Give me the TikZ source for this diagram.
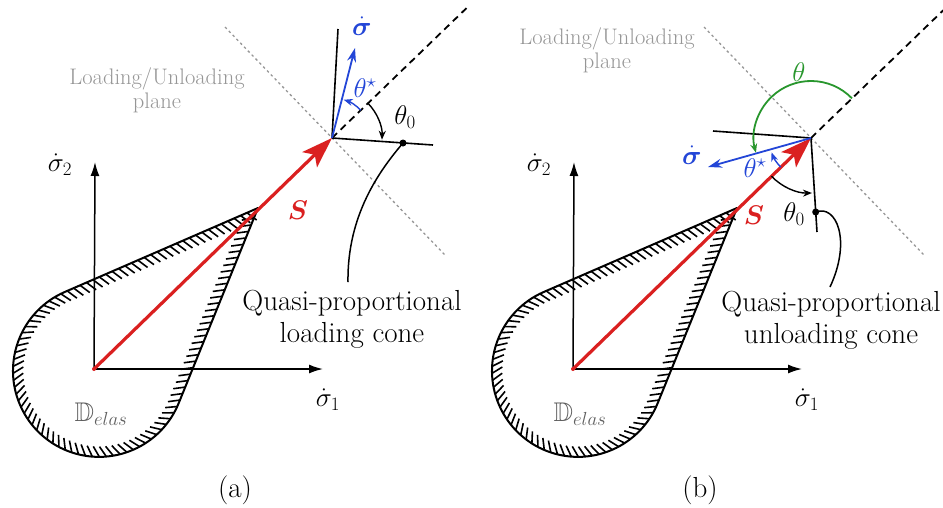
\documentclass[tikz,border=0pt]{standalone}
\usepackage{fix-cm}
\usepackage{amsmath,amssymb,bm}
\usetikzlibrary{arrows.meta,decorations.markings,calc}
\definecolor{sred}{RGB}{218,32,32}
\definecolor{sblue}{RGB}{35,70,215}
\definecolor{sgreen}{RGB}{40,150,45}
\definecolor{lgray}{RGB}{150,150,150}
\definecolor{dgray}{RGB}{95,95,95}
\tikzset{
  x=1pt, y=1pt,
  axisline/.style={line width=1.5pt,-{Latex[length=14pt,width=9pt]}},
  hatched/.style={line width=2pt, line join=round, postaction={decorate},
    decoration={markings, mark=between positions 12pt and -6pt step 7pt with {\draw[line width=1.6pt] (0,0) -- (-6pt,10.5pt);}}},
  sarrow/.style={sred, line width=3.2pt, -{Stealth[length=31pt,width=21pt,inset=7pt]}},
  conel/.style={line width=1.6pt},
  planel/.style={lgray, line width=1.3pt, dash pattern=on 2.5pt off 3pt},
  dashl/.style={line width=1.8pt, dash pattern=on 7pt off 5pt},
  bluearr/.style={sblue, line width=1.8pt, -{Stealth[length=14pt,width=9pt]}},
  smallarc/.style={line width=1.4pt, -{Stealth[length=9pt,width=7pt]}},
  mlab/.style={font=\fontsize{27}{31}\selectfont, inner sep=0pt},
  txt/.style={font=\fontsize{29}{32}\selectfont, align=center, inner sep=0pt},
  graytxt/.style={lgray, font=\fontsize{22.5}{24}\selectfont, align=center, inner sep=0pt},
  dotmark/.style={circle, fill=black, inner sep=0pt, minimum size=7pt},
  slab/.style={sred, font=\fontsize{27}{31}\selectfont, inner sep=0pt},
  caplab/.style={font=\fontsize{29}{32}\selectfont, inner sep=0pt},
}
\begin{document}
\begin{tikzpicture}
\useasboundingbox (0,0) rectangle (943,-507);
\foreach \p/\dx in {a/0,b/479}{
\begin{scope}[xshift=\dx pt]
  \coordinate (O\p) at (94,-369);
  \coordinate (A\p) at (332,-138);
  \coordinate (Y\p) at (95,-162);
  \coordinate (X\p) at (323,-369);
  \coordinate (T\p) at (258,-208);
  \coordinate (P\p) at (64.7,-292.0);
  \coordinate (PL1\p) at (225,-27);
  \coordinate (PL2\p) at (445,-255);
  \coordinate (DL\p) at ($(A\p)+(44:190)$);
  % elastic domain
  \draw[hatched] (T\p) -- (P\p) arc[start angle=113.5, end angle=337.9, radius=86] -- cycle;
  % axes
  \draw[axisline] (O\p) -- (Y\p);
  \draw[axisline] (O\p) -- (X\p);
  \node[mlab] (s2\p) at (60,-165) {$\dot{\sigma}_2$};
  \node[mlab] (s1\p) at (328,-400) {$\dot{\sigma}_1$};
  \node[dgray, font=\fontsize{27}{31}\selectfont, inner sep=0pt] (D\p) at (101,-414) {$\mathbb{D}_{elas}$};
  % plane and dashed line
  \draw[planel] (PL1\p) -- (PL2\p);
  \draw[dashl] (A\p) -- (DL\p);
  % S vector
  \draw[sarrow] (O\p) -- (A\p);
  \fill[sred] (O\p) circle (2pt);
\end{scope}
}
% ---------- panel (a) ----------
\node[slab] (Sa) at (298,-210) {$\boldsymbol{S}$};
\coordinate (Ca1) at (433,-145);
\coordinate (Ca2) at (338,-29);
\draw[conel] (Aa) -- (Ca1);
\draw[conel] (Aa) -- (Ca2);
\node[dotmark] (dota) at (403,-143) {};
\coordinate (cea) at (348,-282);
\draw[line width=1.5pt] (dota.center) .. controls (380,-170) and (347,-215) .. (cea);
\coordinate (Ba) at (355,-48);
\draw[bluearr] (Aa) -- (Ba);
\node[mlab, sblue] (sda) at (362,-26) {$\dot{\boldsymbol{\sigma}}$};
\draw[smallarc, sblue] ($(Aa)+(44:40)$) arc[start angle=44, end angle=73, radius=40];
\node[mlab, sblue] (tsa) at (365,-88) {$\theta^\star$};
\draw[smallarc] ($(Aa)+(44:50)$) arc[start angle=44, end angle=-2, radius=50];
\node[mlab] (t0a) at (405,-117) {$\theta_0$};
\node[txt] (qa) at (352,-319) {Quasi-proportional\\loading cone};
\node[graytxt] (lua) at (157,-90) {Loading/Unloading\\plane};
\node[caplab] (capa) at (235,-490) {(a)};
% ---------- panel (b) ----------
\node[slab] (Sb) at (754,-215) {$\boldsymbol{S}$};
\coordinate (Cb1) at (713,-131);
\coordinate (Cb2) at (817,-232);
\draw[conel] (Ab) -- (Cb1);
\draw[conel] (Ab) -- (Cb2);
\node[dotmark] (dotb) at (815.7,-212) {};
\coordinate (ceb) at (830,-287);
\draw[line width=1.5pt] (dotb.center) .. controls (836,-204) and (852,-240) .. (ceb);
\coordinate (Bb) at (708,-167);
\draw[bluearr] (Ab) -- (Bb);
\node[mlab, sblue] (sdb) at (692,-155) {$\dot{\boldsymbol{\sigma}}$};
\draw[smallarc, sgreen, line width=1.8pt] ($(Ab)+(44:57)$) arc[start angle=44, end angle=195, radius=57];
\node[mlab, sgreen] (thb) at (799,-72) {$\theta$};
\draw[smallarc, sblue] ($(Ab)+(224:42)$) arc[start angle=224, end angle=200, radius=42];
\node[mlab, sblue] (tsb) at (755,-168) {$\theta^\star$};
\draw[smallarc] ($(Ab)+(224:55)$) arc[start angle=224, end angle=271, radius=55];
\node[mlab] (t0b) at (794,-214) {$\theta_0$};
\node[txt] (qb) at (831,-320) {Quasi-proportional\\unloading cone};
\node[graytxt] (lub) at (607,-50) {Loading/Unloading\\plane};
\node[caplab] (capb) at (700,-490) {(b)};
\end{tikzpicture}
\end{document}
